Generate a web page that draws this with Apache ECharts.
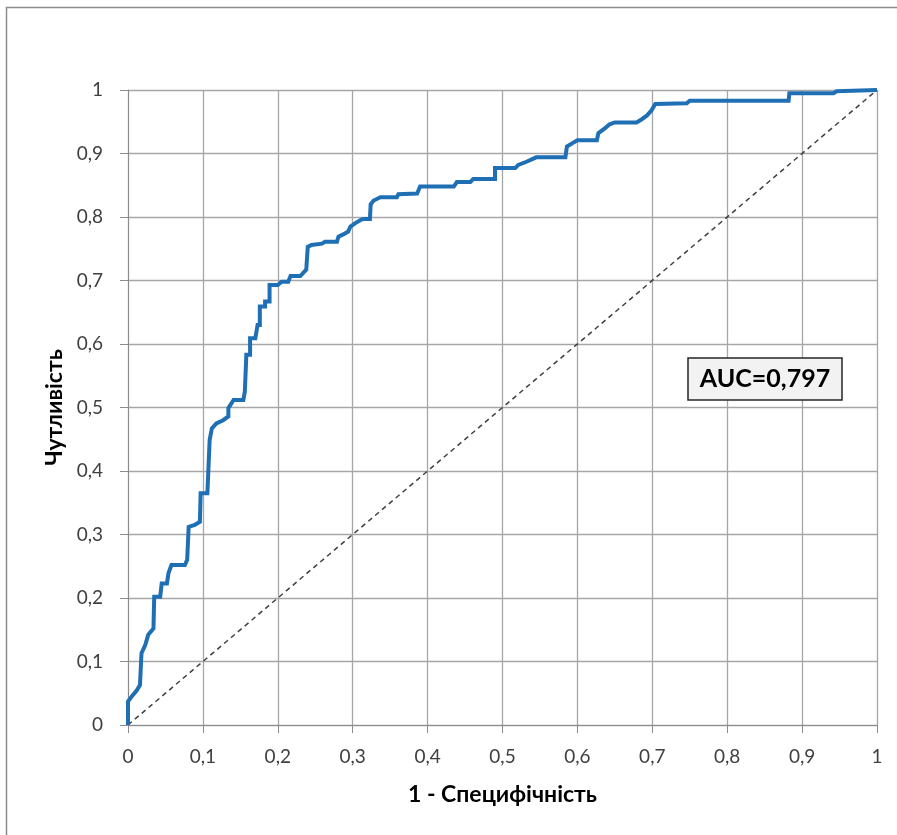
<!DOCTYPE html>
<html>
<head>
<meta charset="utf-8">
<script src="https://cdn.jsdelivr.net/npm/echarts@6/dist/echarts.min.js"></script>
<style>
html,body{margin:0;padding:0;background:#fff;}
#c{width:897px;height:835px;}
</style>
</head>
<body>
<div id="c"></div>
<script>
// 1 - specificity (false positive rate)
const fpr = [0,0,0.005,0.012,0.016,0.018,0.018,0.023,0.027,0.034,0.035,0.035,0.043,0.045,0.052,0.054,0.058,0.076,0.079,0.081,0.081,0.089,0.096,0.097,0.106,0.109,0.112,0.118,0.127,0.134,0.134,0.141,0.154,0.156,0.158,0.163,0.163,0.17,0.173,0.176,0.176,0.183,0.183,0.189,0.189,0.2,0.205,0.214,0.217,0.23,0.234,0.238,0.24,0.245,0.259,0.263,0.279,0.281,0.288,0.294,0.297,0.303,0.31,0.314,0.323,0.324,0.328,0.337,0.359,0.361,0.386,0.39,0.435,0.439,0.457,0.461,0.49,0.49,0.517,0.521,0.532,0.545,0.584,0.586,0.593,0.6,0.626,0.628,0.637,0.643,0.65,0.679,0.686,0.693,0.699,0.704,0.746,0.75,0.882,0.883,0.942,0.946,1];
// sensitivity (true positive rate)
const tpr = [0,0.037,0.045,0.055,0.063,0.063,0.113,0.126,0.142,0.152,0.152,0.202,0.202,0.223,0.223,0.239,0.252,0.252,0.26,0.26,0.312,0.315,0.32,0.365,0.365,0.449,0.467,0.475,0.48,0.486,0.499,0.512,0.512,0.525,0.583,0.583,0.609,0.609,0.63,0.63,0.659,0.659,0.667,0.667,0.693,0.693,0.698,0.698,0.707,0.707,0.712,0.717,0.753,0.756,0.758,0.761,0.761,0.769,0.773,0.777,0.785,0.79,0.795,0.797,0.797,0.82,0.826,0.831,0.831,0.836,0.837,0.848,0.848,0.855,0.855,0.86,0.86,0.877,0.877,0.882,0.887,0.894,0.894,0.911,0.916,0.921,0.921,0.932,0.94,0.946,0.949,0.949,0.954,0.96,0.968,0.978,0.979,0.983,0.983,0.995,0.995,0.998,1];
const diagX = [0,1];
const diagY = [0,1];
const xName = '1 - Специфічність';
const yName = 'Чутливість';
const aucText = 'AUC=0,797';

const roc = fpr.map((x,i)=>[x,tpr[i]]);
const diag = diagX.map((x,i)=>[x,diagY[i]]);
const fmt = v => (Math.round(v*10)/10).toString().replace('.', ',');
const FONT = 'Lato, "Liberation Sans", sans-serif';

const chart = echarts.init(document.getElementById('c'));
chart.setOption({
  animation:false,
  backgroundColor:'#fff',
  grid:{left:128,right:20,top:90,bottom:110,containLabel:false},
  xAxis:{
    type:'value',min:0,max:1,interval:0.1,
    name:xName,nameLocation:'middle',nameGap:58,
    nameTextStyle:{fontFamily:FONT,fontSize:23,fontWeight:'bold',color:'#000'},
    axisLine:{show:true,lineStyle:{color:'#8c8c8c',width:1}},
    axisTick:{show:true,length:8,lineStyle:{color:'#8c8c8c'}},
    axisLabel:{formatter:fmt,fontFamily:FONT,fontSize:19,color:'#404040',margin:22},
    splitLine:{show:true,lineStyle:{color:'#a6a6a6',width:1.3}}
  },
  yAxis:{
    type:'value',min:0,max:1,interval:0.1,
    name:yName,nameLocation:'middle',nameGap:62,nameRotate:90,
    nameTextStyle:{fontFamily:FONT,fontSize:23,fontWeight:'bold',color:'#000'},
    axisLine:{show:true,lineStyle:{color:'#8c8c8c',width:1}},
    axisTick:{show:true,length:8,lineStyle:{color:'#8c8c8c'}},
    axisLabel:{formatter:fmt,fontFamily:FONT,fontSize:19,color:'#404040',margin:25},
    splitLine:{show:true,lineStyle:{color:'#a6a6a6',width:1.3}}
  },
  series:[
    {type:'line',data:diag,showSymbol:false,symbol:'none',
     lineStyle:{color:'#404040',width:1.5,type:[5,4]},z:2},
    {type:'line',data:roc,showSymbol:false,symbol:'none',
     lineStyle:{color:'#1f6fb5',width:4,join:'miter'},z:3}
  ],
  graphic:[
    {type:'rect',shape:{x:6.5,y:7.5,width:900,height:840},
     style:{fill:'none',stroke:'#8c8c8c',lineWidth:1.5},silent:true,z:-1},
    {type:'rect',shape:{x:688,y:358,width:154,height:42},
     style:{fill:'#f2f2f2',stroke:'#262626',lineWidth:1.5},z:10},
    {type:'text',x:765,y:379,style:{text:aucText,fontFamily:FONT,fontSize:25,fontWeight:'bold',fill:'#000',align:'center',verticalAlign:'middle'},z:11}
  ]
});
</script>
</body>
</html>
